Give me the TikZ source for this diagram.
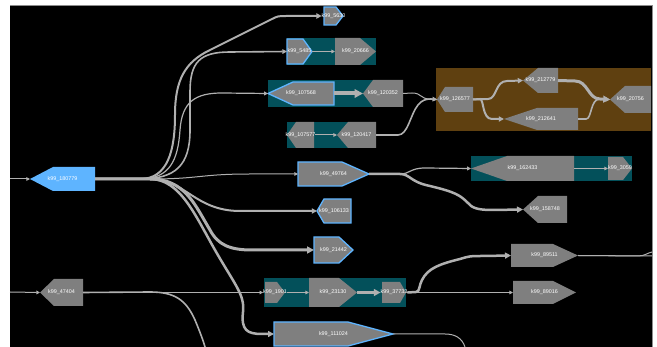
\documentclass[tikz,border=0pt]{standalone}
\usepackage{fontspec}
\setmainfont{Liberation Sans}
\usetikzlibrary{arrows.meta}
\definecolor{tealbg}{HTML}{03505A}
\definecolor{brownbg}{HTML}{5F4010}
\definecolor{gg}{HTML}{7F7F7F}
\definecolor{hb}{HTML}{5EB4FF}
\definecolor{eg}{HTML}{B0B0B0}
\definecolor{framec}{HTML}{8C8C8C}
% right-pointing gene: name, style, x1, xm, x2, y1, y2, label
\newcommand\geneR[8]{%
  \path[#2] (#3,#6) -- (#4,#6) -- (#5,{(#6+#7)/2}) -- (#4,#7) -- (#3,#7) -- cycle;
  \node[lbl,minimum width={#5-#3},minimum height={#7-#6}] (#1) at ({(#3+#5)/2},{(#6+#7)/2}) {#8};}
% left-pointing gene: name, style, xtip, xm, x2, y1, y2, label
\newcommand\geneL[8]{%
  \path[#2] (#3,{(#6+#7)/2}) -- (#4,#6) -- (#5,#6) -- (#5,#7) -- (#4,#7) -- cycle;
  \node[lbl,minimum width={#5-#3},minimum height={#7-#6}] (#1) at ({(#3+#5)/2},{(#6+#7)/2}) {#8};}
\begin{document}
\begin{tikzpicture}[x=1pt,y=-1pt,
  lbl/.style={inner sep=0pt,outer sep=0pt,text=white,font=\fontsize{5.4}{6}\selectfont},
  plain/.style={fill=gg},
  hl/.style={fill=gg,draw=hb,line width=1.3pt,line join=miter},
  bluefill/.style={fill=hb},
  conn/.style={draw=eg,line width=#1,line cap=butt,-{Triangle[length=2pt 1.6,width=2pt 1.6]}},
  plainconn/.style={draw=eg,line width=#1,line cap=butt}]
\useasboundingbox (0,0) rectangle (657,347);
\fill[white] (0,0) rectangle (657,347);
\fill[black] (10,5) rectangle (652,347);
\draw[framec,line width=0.8pt] (10,5) -- (652,5) -- (652,347);
% groups
\fill[tealbg] (287,38) rectangle (376,65);
\fill[tealbg] (268,80) rectangle (403,107);
\fill[tealbg] (287,122) rectangle (376,148);
\fill[brownbg] (436,68) rectangle (651,131);
\fill[tealbg] (471,156) rectangle (632,181);
\fill[tealbg] (264,278) rectangle (406,307);
% genes
\geneR{n5630}{hl}{324}{336}{343}{7}{25}{k99\_5630}
\geneR{n5485}{hl}{287}{303}{312}{39}{64}{k99\_5485}
\geneR{n20666}{plain}{335}{360}{376}{38}{65}{k99\_20666}
\geneL{n107568}{hl}{268}{293}{334}{82}{105}{k99\_107568}
\geneL{n120352}{plain}{363}{373}{403}{80}{107}{k99\_120352}
\geneL{n107577}{plain}{287}{296}{314}{122}{148}{k99\_107577}
\geneL{n120417}{plain}{337}{348}{376}{122}{148}{k99\_120417}
\geneL{n126577}{plain}{437}{445}{473}{87}{112}{k99\_126577}
\geneL{n212779}{plain}{523}{538}{558}{68}{93}{k99\_212779}
\geneL{n212641}{plain}{504}{537}{578}{108}{130}{k99\_212641}
\geneL{n20756}{plain}{610}{625}{651}{86}{113}{k99\_20756}
\geneL{n162433}{plain}{471}{507}{574}{156}{181}{k99\_162433}
\geneR{n3059}{plain}{608}{623}{632}{157}{180}{k99\_3059}
\geneR{n49764}{hl}{298}{342}{369}{162}{186}{k99\_49764}
\geneL{n158748}{plain}{523}{538}{567}{196}{223}{k99\_158748}
\geneL{n106133}{hl}{317}{324}{351}{199}{223}{k99\_106133}
\geneR{n21442}{hl}{314}{339}{353}{237}{263}{k99\_21442}
\geneR{n89511}{plain}{511}{553}{578}{244}{267}{k99\_89511}
\geneR{n89016}{plain}{513}{553}{576}{281}{304}{k99\_89016}
\geneR{n1901}{plain}{265}{277}{285}{282}{303}{k99\_1901}
\geneR{n23130}{plain}{309}{339}{357}{278}{307}{k99\_23130}
\geneR{n37733}{plain}{382}{400}{406}{282}{303}{k99\_37733}
\geneR{n111024}{hl}{274}{348}{393}{322}{346}{k99\_111024}
\geneL{n47404}{plain}{40}{54}{83}{279}{306}{k99\_47404}
\geneL{n180779}{bluefill}{30}{53}{95}{167}{191}{k99\_180779}
% free ends
\coordinate (inA) at (10,179);
\coordinate (inB) at (10,292);
\coordinate (outA) at (205,347);
\coordinate (outB) at (465,347);
\coordinate (outC) at (652,256);
\coordinate (outD) at (652,252);
% input edges
\draw[conn=1pt] (inA) -- (n180779.west);
\draw[conn=1pt] (inB) -- (n47404.west);
% fan out of k99_180779
\draw[conn=2pt] (n180779.east) -- (140,179) .. controls (168,179) and (175,150) .. (175,115)
  .. controls (175,80) and (185,62) .. (210,50) -- (272,19) .. controls (278,16) .. (288,16) -- (n5630.west);
\draw[conn=1.6pt] (n180779.east) -- (140,179) .. controls (176,179) and (190,165) .. (190,130)
  -- (190,92) .. controls (190,62) and (200,52) .. (230,52) -- (n5485.west);
\draw[conn=1.2pt] (n180779.east) -- (140,179) .. controls (170,179) and (178,160) .. (180,130)
  .. controls (182,102) and (195,93) .. (222,93) -- (n107568.west);
\draw[conn=1pt] (n180779.east) -- (150,179) .. controls (200,179) and (200,174) .. (250,174) -- (n49764.west);
\draw[conn=2pt] (n180779.east) -- (150,179) .. controls (185,179) and (195,211) .. (240,211) -- (n106133.west);
\draw[conn=3pt] (n180779.east) -- (150,179) .. controls (185,179) and (195,205) .. (210,230)
  .. controls (218,245) and (230,250) .. (252,250) -- (n21442.west);
\draw[conn=2.5pt] (n180779.east) -- (150,179) .. controls (180,179) and (195,215) .. (215,250)
  .. controls (235,285) and (245,295) .. (243,312) .. controls (241,330) and (247,334) .. (262,334) -- (n111024.west);
% top groups
\draw[conn=1pt] (n5485.east) -- (n20666.west);
\draw[conn=4pt] (n107568.east) -- (n120352.west);
\draw[conn=1pt] (n107577.east) -- (n120417.west);
\draw[conn=1pt] (n120352.east) -- (412,93) .. controls (422,93) and (420,99) .. (430,99) -- (n126577.west);
\draw[conn=1.6pt] (n120417.east) -- (398,135) .. controls (408,135) and (410,115) .. (418,105)
  .. controls (422,100) and (426,99) .. (431,99) -- (n126577.west);
% brown group
\draw[conn=2pt] (n126577.east) -- (488,99) .. controls (497,99) and (495,81) .. (507,81) -- (n212779.west);
\draw[conn=2pt] (n126577.east) -- (480,99) .. controls (484,99) and (482,119) .. (492,119) -- (n212641.west);
\draw[conn=3pt] (n212779.east) -- (575,81) .. controls (588,81) and (588,99) .. (600,99) -- (n20756.west);
\draw[conn=1.6pt] (n212641.east) -- (586,119) .. controls (592,119) and (590,99) .. (600,99) -- (n20756.west);
% k99_49764
\draw[conn=1.2pt] (n49764.east) -- (400,174) .. controls (410,174) and (410,168) .. (425,168) -- (n162433.west);
\draw[conn=2.5pt] (n49764.east) -- (400,174) .. controls (410,174) and (410,182) .. (430,186)
  .. controls (455,192) and (460,195) .. (468,203) .. controls (472,208) and (478,210) .. (492,210) -- (n158748.west);
\draw[conn=1pt] (n162433.east) -- (n3059.west);
% bottom
\draw[conn=1pt] (n47404.east) -- (n1901.west);
\draw[plainconn=1.6pt] (n47404.east) -- (150,292) .. controls (175,292) and (186,300) .. (195,320)
  .. controls (200,332) and (203,340) .. (outA);
\draw[conn=1pt] (n1901.east) -- (n23130.west);
\draw[conn=3pt] (n23130.east) -- (n37733.west);
\draw[conn=2.5pt] (n37733.east) -- (416,292) .. controls (420,292) and (419,285) .. (422,280)
  .. controls (428,268) and (440,264) .. (460,259) .. controls (470,256) .. (482,256) -- (n89511.west);
\draw[conn=1pt] (n37733.east) -- (n89016.west);
\draw[plainconn=1pt] (n89511.east) -- (outC);
\draw[plainconn=1pt] (n89511.east) -- (638,256) .. controls (645,256) and (647,253) .. (outD);
\draw[plainconn=1pt] (n111024.east) -- (445,334) .. controls (455,334) and (462,338) .. (outB);
\end{tikzpicture}
\end{document}
